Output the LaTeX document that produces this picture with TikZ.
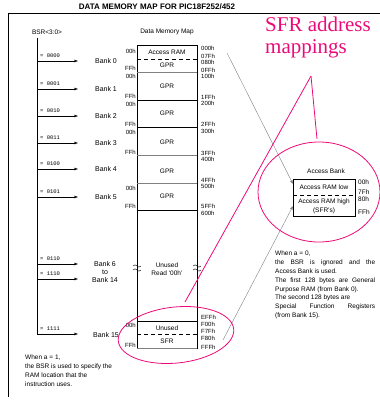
\documentclass[tikz,border=0pt]{standalone}
\usepackage{fontspec}
\setmainfont{Liberation Sans}
\newfontfamily\notefont{Liberation Serif}
\newfontfamily\bsrfont{Liberation Mono}
\usetikzlibrary{positioning,arrows.meta,calc}
\definecolor{SFRPink}{RGB}{236,10,120}

\begin{document}
\begin{tikzpicture}[
    x=1pt,y=-1pt,
    addr/.style={font=\fontsize{6}{6}\selectfont,inner sep=0pt,anchor=west},
    offs/.style={font=\fontsize{6}{6}\selectfont,inner sep=0pt,anchor=east},
    bank/.style={font=\fontsize{7}{8}\selectfont,inner sep=0pt,align=center},
    bsr/.style={font=\bsrfont\fontsize{5.5}{6}\selectfont,inner sep=0pt,anchor=base west},
    cell/.style={font=\fontsize{6.5}{8}\selectfont,inner sep=0pt,align=center},
    sel/.style={-{Latex[length=3.5pt,width=3pt]}},
    link/.style={gray,-{Latex[length=3.5pt,width=3pt]}},
    hint/.style={SFRPink,line width=0.8pt},
    bound/.style={gray,line width=1pt}
]
\useasboundingbox (0,0) rectangle (380,400);

% Title and frame
\node[font=\bfseries\fontsize{8}{8}\selectfont,inner sep=0pt] (title) at (157,7) {DATA MEMORY MAP FOR PIC18F252/452};
\draw (8,397) |- (380,13);

% BSR selector
\node[font=\fontsize{6.5}{7}\selectfont,inner sep=0pt] (bsrlbl) at (47,32) {BSR<3:0>};
\coordinate (bsrtop) at (37,38);
\coordinate (bsrbot) at (37,334);
\draw (bsrtop) -- (bsrbot);
\foreach \n/\bits/\y in {0/0000/61, 1/0001/89, 2/0010/116, 3/0011/143, 4/0100/169, 5/0101/197}{
  \coordinate (s\n) at (37,\y);
  \coordinate (e\n) at (78,\y);
  \node[bsr] (b\n) at (40,\y-4) {= \bits};
  \node[bank] (bank\n) at (106,\y) {Bank \n};
  \draw[sel] (s\n) -- (e\n);
}
\coordinate (s6) at (37,264);   \coordinate (e6) at (78,264);
\coordinate (s14) at (37,279);  \coordinate (e14) at (78,279);
\coordinate (s15) at (37,334);  \coordinate (e15) at (78,334);
\node[bsr] (b6) at (40,260) {= 0110};
\node[bsr] (b14) at (40,275) {= 1110};
\node[bsr] (b15) at (40,330) {= 1111};
\draw[sel] (s6) -- (e6);
\draw[sel] (s14) -- (e14);
\draw[sel] (s15) -- (e15);
\node[bank] (bank6) at (105,272) {Bank 6\\to\\Bank 14};
\node[bank] (bank15) at (106,335) {Bank 15};

% Data memory map column
\node[font=\fontsize{6.5}{7}\selectfont,inner sep=0pt] (maplbl) at (167,32) {Data Memory Map};
\draw (137,45) rectangle (197,348);
\draw[dashed,dash pattern=on 4pt off 3pt] (137,59) -- (197,59);
\draw[bound] (137,72) -- (197,72);
\draw (137,100) -- (197,100);
\draw (137,127) -- (197,127);
\draw[bound] (137,155) -- (197,155);
\draw[bound] (137,183) -- (197,183);
\draw (137,210) -- (197,210);
\draw (137,321) -- (197,321);
\draw[dashed,dash pattern=on 4pt off 3pt] (137,334) -- (197,334);
\draw[bound] (137,348) -- (197,348);
\node[cell] (accram) at (167,52) {Access RAM};
\node[cell] (gpr0) at (167,65) {GPR};
\node[cell] (gpr1) at (167,86) {GPR};
\node[cell] (gpr2) at (167,113) {GPR};
\node[cell] (gpr3) at (167,142) {GPR};
\node[cell] (gpr4) at (167,171) {GPR};
\node[cell] (gpr5) at (167,196) {GPR};
\node[cell] (unused) at (167,269) {Unused\\Read `00h'};
\node[cell] (unused15) at (167,328) {Unused};
\node[cell] (sfr) at (167,341) {SFR};
% break marks
\foreach \bx in {137,197}{
  \draw (\bx-4,266) .. controls (\bx-1,262) and (\bx+1,270) .. (\bx+4,266);
  \draw (\bx-4,270) .. controls (\bx-1,266) and (\bx+1,274) .. (\bx+4,270);
}

% Bank offsets
\node[offs] (o0a) at (136,51) {00h};   \node[offs] (o0b) at (136,68) {FFh};
\node[offs] (o1a) at (136,76) {00h};   \node[offs] (o1b) at (136,96) {FFh};
\node[offs] (o2a) at (136,104) {00h};  \node[offs] (o2b) at (136,124) {FFh};
\node[offs] (o3a) at (136,132) {00h};  \node[offs] (o3b) at (136,152) {FFh};
\node[offs] (o5a) at (136,188) {00h};  \node[offs] (o5b) at (136,206) {FFh};
\node[offs] (o15a) at (136,325) {00h}; \node[offs] (o15b) at (136,345) {FFh};

% Absolute addresses
\node[addr] (a000) at (201,48) {000h};
\node[addr] (a07F) at (201,56) {07Fh};
\node[addr] (a080) at (201,62) {080h};
\node[addr] (a0FF) at (201,70) {0FFh};
\node[addr] (a100) at (201,76) {100h};
\node[addr] (a1FF) at (201,97) {1FFh};
\node[addr] (a200) at (201,103) {200h};
\node[addr] (a2FF) at (201,124) {2FFh};
\node[addr] (a300) at (201,131) {300h};
\node[addr] (a3FF) at (201,153) {3FFh};
\node[addr] (a400) at (201,159) {400h};
\node[addr] (a4FF) at (201,180) {4FFh};
\node[addr] (a500) at (201,186) {500h};
\node[addr] (a5FF) at (201,206) {5FFh};
\node[addr] (a600) at (201,213) {600h};
\node[addr] (aEFF) at (201,317) {EFFh};
\node[addr] (aF00) at (201,324) {F00h};
\node[addr] (aF7F) at (201,331) {F7Fh};
\node[addr] (aF80) at (201,338) {F80h};
\node[addr] (aFFF) at (201,347) {FFFh};

% Access bank
\node[cell] (acclbl) at (326,171) {Access Bank};
\node[draw,minimum width=62pt,minimum height=37pt,anchor=north west] (accbank) at (293,179) {};
\draw[dashed,dash pattern=on 4pt off 3pt] (293,195.5) -- (355,195.5);
\node[cell] (acclow) at (324,187.5) {Access RAM low};
\node[cell] (acchigh) at (324,202) {Access RAM high};
\node[cell] (accsfr) at (324,210.5) {(SFR's)};
\node[addr,font=\fontsize{6.5}{7}\selectfont] (k00) at (358,182) {00h};
\node[addr,font=\fontsize{6.5}{7}\selectfont] (k7F) at (358,192) {7Fh};
\node[addr,font=\fontsize{6.5}{7}\selectfont] (k80) at (358,199) {80h};
\node[addr,font=\fontsize{6.5}{7}\selectfont] (kFF) at (358,212) {FFh};
\coordinate (lowin) at (293,184);
\coordinate (highin) at (293,206);
\coordinate (loout) at (227,53);
\coordinate (hiout) at (223,340);
\draw[link] (loout) -- (lowin);
\draw[link] (hiout) -- (highin);

% Notes
\node[anchor=north west,inner sep=0pt,align=left,font=\fontsize{6.5}{8.8}\selectfont] (note1) at (25,355)
  {When a = 1,\\the BSR is used to specify the\\RAM location that the\\instruction uses.};
\node[anchor=north west,inner sep=0pt,text width=100pt,align=justify,font=\fontsize{6.5}{8.8}\selectfont] (note0) at (275,251)
  {When a = 0,\\the BSR is ignored and the\linebreak Access Bank is used.\\The first 128 bytes are General\linebreak Purpose RAM (from Bank 0).\\The second 128 bytes are\\Special Function Registers\linebreak (from Bank 15).};

% SFR highlight
\node[anchor=base west,inner sep=0pt,align=left,text=SFRPink,font=\notefont\fontsize{21}{22}\selectfont] (sfrnote) at (265,53) {SFR address\\mappings};
\coordinate (apex) at (311,76);
\coordinate (tolow) at (185,302);
\coordinate (toacc) at (317,139);
\draw[hint] (apex) -- (tolow);
\draw[hint] (apex) -- (toacc);
\draw[hint] (319,192) ellipse [x radius=61, y radius=50];
\draw[hint,rotate around={6:(176,335)}] (176,335) ellipse [x radius=58, y radius=28];
\end{tikzpicture}
\end{document}
